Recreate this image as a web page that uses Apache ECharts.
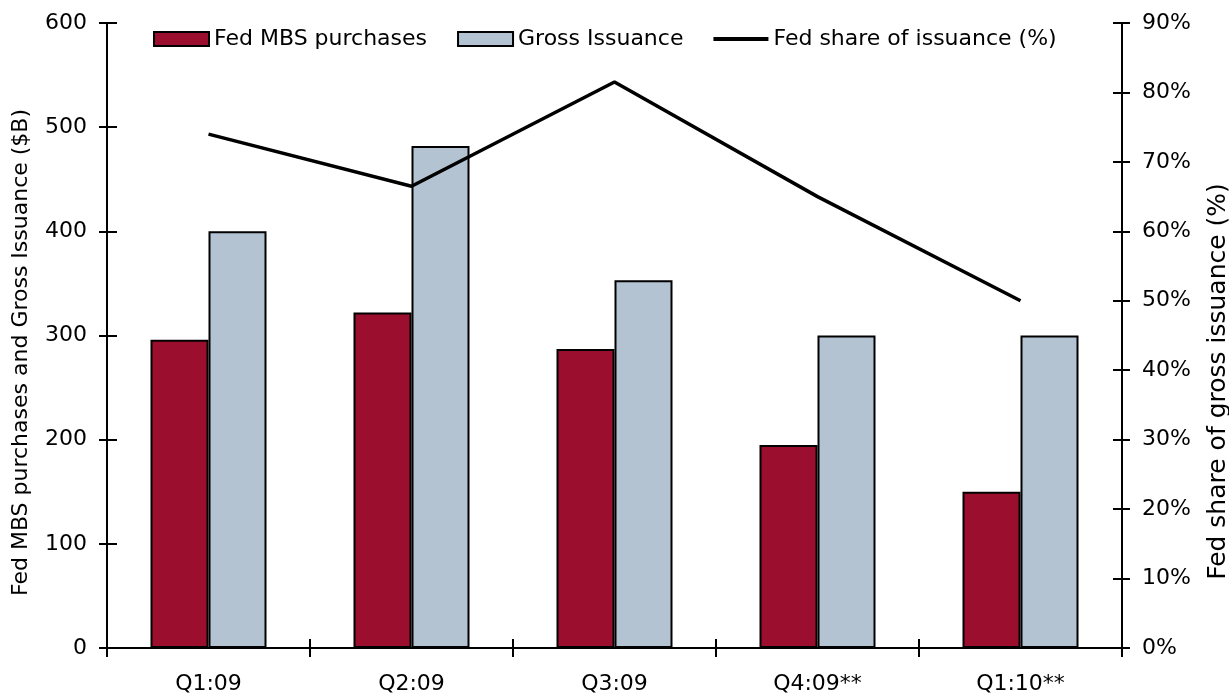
<!DOCTYPE html>
<html>
<head>
<meta charset="utf-8">
<script src="https://cdn.jsdelivr.net/npm/echarts@6/dist/echarts.min.js"></script>
<style>
  html, body { margin: 0; padding: 0; background: #fff; overflow: hidden; }
  #chart { width: 1229px; height: 695px; }
</style>
</head>
<body>
<div id="chart"></div>
<script>
// Quarterly Fed MBS purchases vs. gross agency MBS issuance ($B) and the Fed's share (%)
const categories = ['Q1:09', 'Q2:09', 'Q3:09', 'Q4:09**', 'Q1:10**'];
const fedPurchases = [296, 322, 287, 195, 150];
const grossIssuance = [400, 482, 353, 300, 300];
const fedShare = [74, 66.5, 81.5, 65, 50];

const leftTicks = { min: 0, max: 600, interval: 100 };
const rightTicks = { min: 0, max: 90, interval: 10 };

const FONT = 'DejaVu Sans';
const BLACK = '#000';
const RED = '#9C0E2D';
const BLUE = '#B3C3D2';

const chart = echarts.init(document.getElementById('chart'), null, { renderer: 'canvas' });

const lineStyle = { color: BLACK, width: 2 };

chart.setOption({
  animation: false,
  backgroundColor: '#fff',
  textStyle: { fontFamily: FONT, color: BLACK },
  grid: { left: 107, right: 107, top: 23, bottom: 47, containLabel: false, outerBoundsMode: 'none' },
  legend: {
    top: 23,
    left: 148,
    itemWidth: 55,
    itemHeight: 14,
    itemGap: 30,
    textStyle: { fontFamily: FONT, fontSize: 22, color: BLACK },
    data: [
      { name: 'Fed MBS purchases', icon: 'rect' },
      { name: 'Gross Issuance', icon: 'rect' },
      { name: 'Fed share of issuance (%)', icon: 'path://M0 0H150V11H0Z' }
    ]
  },
  xAxis: [
    {
      type: 'category',
      data: categories,
      position: 'bottom',
      axisLine: { lineStyle },
      axisTick: { show: true, length: 9, lineStyle },
      axisLabel: { fontFamily: FONT, fontSize: 22, color: BLACK, margin: 25 },
      splitLine: { show: false }
    },
    {
      // inner half of the crossing category ticks
      type: 'category',
      data: categories,
      position: 'bottom',
      axisLine: { show: false },
      axisTick: { show: true, inside: true, length: 9, lineStyle },
      axisLabel: { show: false },
      splitLine: { show: false }
    }
  ],
  yAxis: [
    {
      type: 'value',
      position: 'left',
      min: leftTicks.min, max: leftTicks.max, interval: leftTicks.interval,
      name: 'Fed MBS purchases and Gross Issuance ($B)',
      nameLocation: 'middle',
      nameRotate: 90,
      nameGap: 75,
      nameTextStyle: { fontFamily: FONT, fontSize: 22, color: BLACK, padding: [0, 34, 0, 0] },
      axisLine: { show: true, lineStyle },
      axisTick: { show: true, length: 8, lineStyle },
      axisLabel: { fontFamily: FONT, fontSize: 22, color: BLACK, margin: 20 },
      splitLine: { show: false }
    },
    {
      type: 'value',
      position: 'right',
      min: rightTicks.min, max: rightTicks.max, interval: rightTicks.interval,
      name: 'Fed share of gross issuance (%)',
      nameLocation: 'middle',
      nameRotate: 90,
      nameGap: 84,
      nameTextStyle: { fontFamily: FONT, fontSize: 25, color: BLACK, padding: [0, 92, 0, 0] },
      axisLine: { show: true, lineStyle },
      axisTick: { show: true, length: 8, lineStyle },
      axisLabel: { fontFamily: FONT, fontSize: 22, color: BLACK, margin: 20, formatter: '{value}%' },
      splitLine: { show: false }
    },
    {
      // inner half of the crossing left ticks
      type: 'value',
      position: 'left',
      min: leftTicks.min, max: leftTicks.max, interval: leftTicks.interval,
      axisLine: { show: false },
      axisTick: { show: true, inside: true, length: 10, lineStyle },
      axisLabel: { show: false },
      splitLine: { show: false }
    },
    {
      // inner half of the crossing right ticks
      type: 'value',
      position: 'right',
      min: rightTicks.min, max: rightTicks.max, interval: rightTicks.interval,
      axisLine: { show: false },
      axisTick: { show: true, inside: true, length: 9, lineStyle },
      axisLabel: { show: false },
      splitLine: { show: false }
    }
  ],
  series: [
    {
      name: 'Fed MBS purchases',
      type: 'bar',
      xAxisIndex: 0,
      yAxisIndex: 0,
      data: fedPurchases,
      barWidth: 58,
      barGap: '0%',
      itemStyle: { color: RED, borderColor: BLACK, borderWidth: 2 }
    },
    {
      name: 'Gross Issuance',
      type: 'bar',
      xAxisIndex: 0,
      yAxisIndex: 0,
      data: grossIssuance,
      barWidth: 58,
      barGap: '0%',
      itemStyle: { color: BLUE, borderColor: BLACK, borderWidth: 2 }
    },
    {
      name: 'Fed share of issuance (%)',
      type: 'line',
      xAxisIndex: 0,
      yAxisIndex: 1,
      data: fedShare,
      symbol: 'none',
      z: 5,
      lineStyle: { color: BLACK, width: 3.5 },
      itemStyle: { color: BLACK }
    }
  ]
});
</script>
</body>
</html>
